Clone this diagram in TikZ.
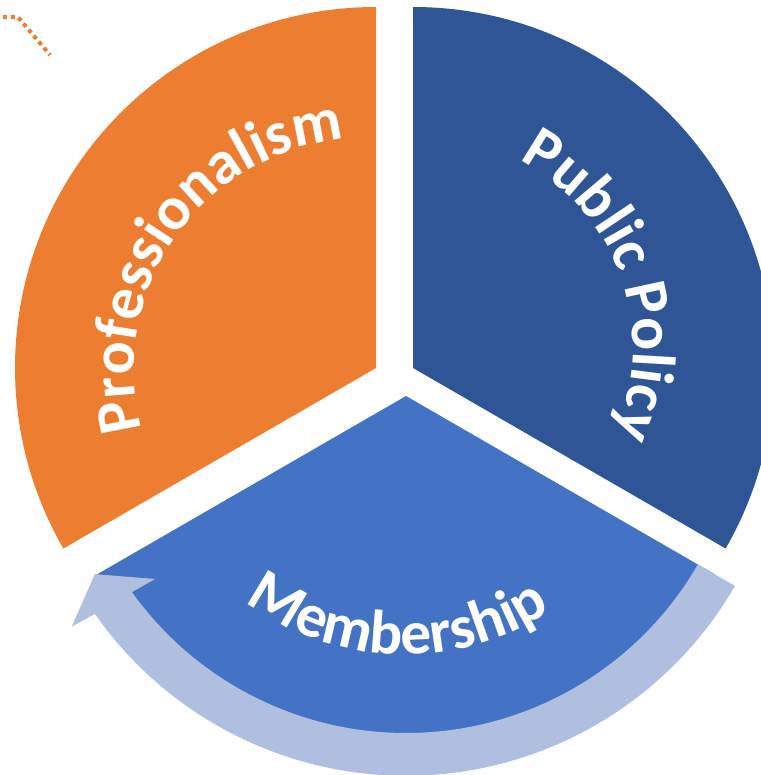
\documentclass[tikz,border=0pt]{standalone}
\usepackage{fontspec}
\setmainfont{Carlito}
\usetikzlibrary{decorations.text}

\definecolor{proforange}{HTML}{ED7D31}
\definecolor{policyblue}{HTML}{2F5597}
\definecolor{memberblue}{HTML}{4472C4}
\definecolor{arrowlilac}{HTML}{B0BEE0}

\newcommand{\wedgefont}{\fontsize{35}{42}\selectfont\bfseries}

\tikzset{
  wedge text/.style={decorate, decoration={text along path, text align=center,
      text color=white, text={|\wedgefont|#1}}},
  dotline/.style={draw=proforange, line width=2.3pt, dash pattern=on 2.3pt off 2.2pt}
}

\begin{document}
\begin{tikzpicture}[x=0.02cm, y=0.02cm]
  \useasboundingbox (0,0) rectangle (761,775);
  \clip (0,0) rectangle (761,775);

  % apexes of the three wedges
  \coordinate (prof) at (376,407);
  \coordinate (policy) at (413,407);
  \coordinate (member) at (406,379);

  % wedges
  \fill[proforange] (prof) -- ++(90:361) arc[start angle=90, end angle=210, radius=361] -- cycle;
  \fill[policyblue] (policy) -- ++(90:361) arc[start angle=90, end angle=-30, radius=361] -- cycle;
  \fill[memberblue] (member) -- ++(210:357) arc[start angle=210, end angle=330, radius=357] -- cycle;

  % arrow round the bottom
  \begin{scope}[shift={(member)}]
    \fill[arrowlilac] (-30:337) arc[start angle=-30, end angle=-144.4, radius=337]
      -- (-143.9:310.6) -- (-150.2:358.5) -- (-145.4:406.2) -- (-145:379.8)
      arc[start angle=-145, end angle=-30, radius=379.8] -- cycle;
  \end{scope}

  % labels
  \coordinate (prof text) at (364,406);
  \coordinate (policy text) at (423,428);
  \coordinate (member text) at (405,387);
  \path[wedge text=Professionalism] (prof text) ++(215:230)
    arc[start angle=215, end angle=75, radius=230];
  \path[wedge text={Public Policy}] (policy text) ++(99.1:210)
    arc[start angle=99.1, end angle=-60.9, radius=210];
  \path[wedge text=Membership] (member text) ++(-151.75:266.5)
    arc[start angle=-151.75, end angle=-31.75, radius=266.5];

  % dotted line, top left
  \draw[dotline] (-5,758) -- (18,758) -- (50,720);
\end{tikzpicture}
\end{document}
